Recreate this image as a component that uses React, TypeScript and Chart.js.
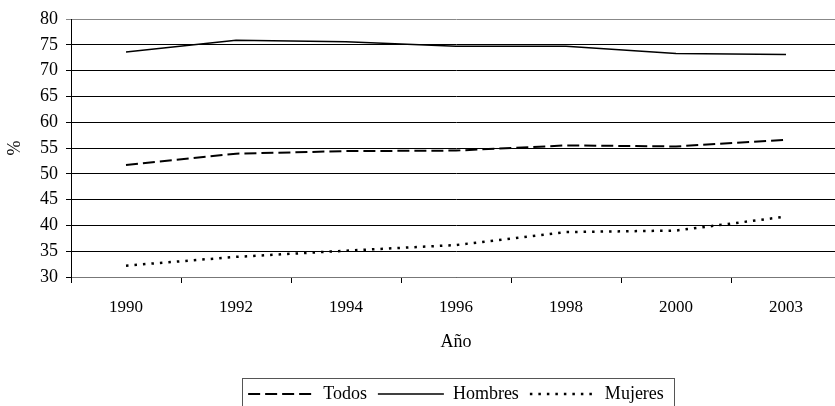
import { useEffect, useRef } from "react";
import { Chart, registerables } from "chart.js";

Chart.register(...registerables);

const years = ["1990", "1992", "1994", "1996", "1998", "2000", "2003"];
const todos = [51.7, 53.9, 54.4, 54.5, 55.5, 55.3, 56.6];
const hombres = [73.6, 75.9, 75.6, 74.7, 74.7, 73.3, 73.1];
const mujeres = [32.2, 33.9, 35.1, 36.2, 38.7, 39.0, 41.7];
const yMin = 30;
const yMax = 80;
const yStep = 5;

const FONT = "'Liberation Serif', 'Times New Roman', serif";

const legendBorder = {
  id: "legendBorder",
  afterDraw(chart: any) {
    const lg = chart.legend;
    if (!lg || !lg.legendHitBoxes || !lg.legendHitBoxes.length) return;
    const boxes = lg.legendHitBoxes;
    const left = Math.min(...boxes.map((b: any) => b.left)) - 6;
    const right = Math.max(...boxes.map((b: any) => b.left + b.width)) + 10;
    const top = Math.min(...boxes.map((b: any) => b.top)) - 7;
    const ctx = chart.ctx;
    ctx.save();
    ctx.strokeStyle = "#555";
    ctx.lineWidth = 1;
    ctx.setLineDash([]);
    ctx.strokeRect(Math.round(left) + 0.5, Math.round(top) + 0.5, Math.round(right - left), 80);
    ctx.restore();
  },
};

export default function App() {
  const ref = useRef<HTMLCanvasElement>(null);

  useEffect(() => {
    if (!ref.current) return;
    Chart.defaults.font.family = FONT;
    Chart.defaults.color = "#000";
    const chart = new Chart(ref.current, {
      type: "line",
      data: {
        labels: years,
        datasets: [
          {
            label: "Todos",
            data: todos,
            borderColor: "#000",
            backgroundColor: "#000",
            borderWidth: 2,
            borderDash: [12, 5],
            pointRadius: 0,
            pointStyle: "line",
            tension: 0,
          },
          {
            label: "Hombres",
            data: hombres,
            borderColor: "#000",
            backgroundColor: "#000",
            borderWidth: 1.5,
            pointRadius: 0,
            pointStyle: "line",
            tension: 0,
          },
          {
            label: "Mujeres",
            data: mujeres,
            borderColor: "#000",
            backgroundColor: "#000",
            borderWidth: 2.5,
            borderDash: [2.5, 6],
            pointRadius: 0,
            pointStyle: "line",
            tension: 0,
          },
        ],
      },
      options: {
        responsive: false,
        animation: false,
        devicePixelRatio: 1,
        layout: { padding: { top: 19, right: 19, bottom: 7, left: 0 } },
        plugins: {
          tooltip: { enabled: false },
          legend: {
            position: "bottom",
            fullSize: false,
            labels: {
              usePointStyle: true,
              pointStyleWidth: 66,
              padding: 11,
              color: "#000",
              font: { size: 18, family: FONT },
              generateLabels: (chart: any) => {
                const items = (Chart.defaults.plugins.legend.labels as any).generateLabels(chart);
                return items.map((it: any) => {
                  const ds = chart.data.datasets[it.datasetIndex];
                  return {
                    ...it,
                    pointStyle: "line",
                    lineDash: ds.borderDash || [],
                    lineWidth: ds.borderWidth,
                    strokeStyle: ds.borderColor,
                    fillStyle: ds.borderColor,
                  };
                });
              },
            },
          },
        },
        scales: {
          x: {
            type: "category",
            offset: true,
            grid: {
              offset: true,
              drawOnChartArea: false,
              drawTicks: true,
              tickLength: 6,
              color: "#000",
            },
            border: { color: "#777", width: 1 },
            ticks: { padding: 14, color: "#000", font: { size: 17, family: FONT }, maxRotation: 0 },
            title: {
              display: true,
              text: "Año",
              color: "#000",
              font: { size: 18, family: FONT },
              padding: { top: 0, bottom: 21 },
            },
          },
          y: {
            min: yMin,
            max: yMax,
            ticks: { stepSize: yStep, padding: 8, color: "#000", font: { size: 18, family: FONT } },
            grid: {
              color: (c: any) => (c.tick && c.tick.value === yMax ? "#888" : "#000"),
              lineWidth: 1,
              tickLength: 5,
            },
            border: { color: "#000", width: 1 },
            title: {
              display: true,
              text: "%",
              color: "#000",
              font: { size: 18, family: FONT },
              padding: { top: 4, bottom: 0 },
            },
            afterFit: (s: any) => {
              s.width = 71;
            },
          },
        },
      },
      plugins: [legendBorder],
    } as any);
    return () => chart.destroy();
  }, []);

  return (
    <div style={{ position: "fixed", left: 0, top: 0, width: 835, height: 406, overflow: "hidden", background: "#fff" }}>
      <canvas ref={ref} width={860} height={420} style={{ display: "block" }} />
    </div>
  );
}
